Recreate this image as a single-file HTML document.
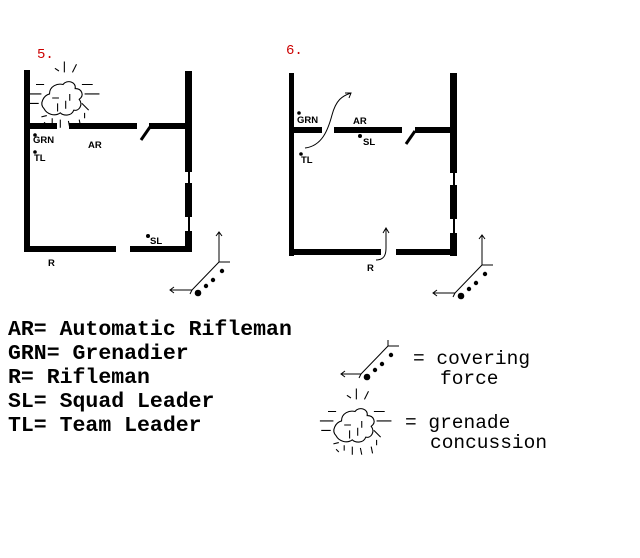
<!DOCTYPE html>
<html><head><style>
html,body{margin:0;padding:0;background:#fff;}
svg{display:block;}
.m{font-family:"Liberation Mono",monospace;}
</style></head><body>
<svg width="640" height="558" viewBox="0 0 640 558" xmlns="http://www.w3.org/2000/svg">
<defs>
<g id="gren0" fill="none" stroke="#000" stroke-width="0.8">
 <path d="M-14,8 C-18,4 -14,-2 -10,-3 C-10,-9 -4,-11 0,-10 C3,-14 10,-12 9,-7 C14,-7 16,-2 12,1 C15,5 12,10 8,9 C6,14 0,13 -2,11 C-6,14 -12,12 -14,8 Z"/>
 <path d="M-4,4 L-4,10 M2,2 L2,8 M-8,0 L-3,0 M5,-3 L5,2"/>
 <path d="M-6,-22 L-3,-20 M1,-27 L1,-19 M10,-25 L7,-19 M-20,-10 L-14,-10 M-26,-3 L-16,-3 M-25,4 L-18,4 M14,-10 L22,-10 M16,-3 L27,-3 M14,4 L19,9 M16,11 L16,15 M-16,14 L-12,13 M-8,15 L-8,19 M-2,16 L-2,22 M4,17 L5,22 M12,16 L13,21 M-14,18 L-12,20"/>
</g>
<g id="gren"><use href="#gren0" transform="scale(1.35)"/></g>
<g id="cov">
 <path d="M0,0 L0,-30 M-3,-26 L0,-30 L3,-26 M0,0 L11,0 M0,0 L-27,28 L-49,28 M-45,25 L-49,28 L-45,31 M-27,28 L-29,32" fill="none" stroke="#000" stroke-width="1"/>
 <circle cx="3" cy="9" r="2.2"/><circle cx="-6" cy="18" r="2.2"/><circle cx="-13" cy="24" r="2.2"/><circle cx="-21" cy="31" r="3.3"/>
</g>
<g id="cov2">
 <path d="M0,0 L0,-6 M0,0 L11,0 M0,0 L-27,28 L-47,28 M-43,25 L-47,28 L-43,31 M-27,28 L-29,32" fill="none" stroke="#000" stroke-width="1"/>
 <circle cx="3" cy="9" r="2.2"/><circle cx="-6" cy="18" r="2.2"/><circle cx="-13" cy="24" r="2.2"/><circle cx="-21" cy="31" r="3.3"/>
</g>
</defs>
<g class="m" fill="#c00" font-size="14"><text x="37" y="58">5.</text><text x="286" y="54">6.</text></g>

<!-- Room 5 -->
<g fill="#000">
 <rect x="24" y="70" width="6" height="182"/>
 <rect x="24" y="123" width="33" height="6"/>
 <rect x="69" y="123" width="68" height="6"/>
 <rect x="149" y="123" width="38" height="6"/>
 <rect x="185" y="71" width="7" height="101"/>
 <rect x="188" y="172" width="2" height="11"/>
 <rect x="185" y="183" width="7" height="34"/>
 <rect x="188" y="217" width="2" height="14"/>
 <rect x="185" y="231" width="7" height="21"/>
 <rect x="24" y="246" width="92" height="6"/>
 <rect x="130" y="246" width="62" height="6"/>
</g>
<line x1="141" y1="140" x2="150" y2="127" stroke="#000" stroke-width="3"/>
<use href="#gren" x="63" y="98"/>
<g font-family="Liberation Sans,sans-serif" font-size="9.5" font-weight="bold">
 <text x="33" y="143">GRN</text><text x="34" y="161">TL</text><text x="88" y="148">AR</text><text x="150" y="244">SL</text><text x="48" y="266">R</text>
</g>
<circle cx="35" cy="135" r="1.8"/><circle cx="35" cy="152" r="1.8"/><circle cx="148" cy="236" r="2"/>
<use href="#cov" x="219" y="262"/>

<!-- Room 6 -->
<g fill="#000">
 <rect x="289" y="73" width="5" height="183"/>
 <rect x="289" y="127" width="33" height="6"/>
 <rect x="334" y="127" width="68" height="6"/>
 <rect x="415" y="127" width="38" height="6"/>
 <rect x="450" y="73" width="7" height="100"/>
 <rect x="453" y="173" width="2" height="12"/>
 <rect x="450" y="185" width="7" height="34"/>
 <rect x="453" y="219" width="2" height="14"/>
 <rect x="450" y="233" width="7" height="23"/>
 <rect x="289" y="249" width="92" height="6"/>
 <rect x="396" y="249" width="61" height="6"/>
</g>
<line x1="406" y1="144" x2="415" y2="131" stroke="#000" stroke-width="3"/>
<g font-family="Liberation Sans,sans-serif" font-size="9.5" font-weight="bold">
 <text x="297" y="123">GRN</text><text x="301" y="163">TL</text><text x="353" y="124">AR</text><text x="363" y="145">SL</text><text x="367" y="271">R</text>
</g>
<circle cx="299" cy="113" r="1.8"/><circle cx="301" cy="154" r="1.8"/><circle cx="360" cy="136" r="2"/>
<path d="M305,148 C322,146 328,130 332,115 C336,100 342,96 351,93 M345,93 L351,93 L349,98" fill="none" stroke="#000"/>
<path d="M376,260 C384,260 386,255 386,248 L386,229 M383,233 L386,228 L389,233" fill="none" stroke="#000"/>
<use href="#cov" x="482" y="265"/>

<!-- Legend -->
<g class="m" font-size="21.5" font-weight="bold">
 <text x="8" y="335">AR= Automatic Rifleman</text>
 <text x="8" y="359">GRN= Grenadier</text>
 <text x="8" y="383">R= Rifleman</text>
 <text x="8" y="407">SL= Squad Leader</text>
 <text x="8" y="431">TL= Team Leader</text>
</g>
<use href="#cov2" x="388" y="346"/>
<use href="#gren" x="355" y="425"/>
<g class="m" font-size="19.5">
 <text x="413" y="364">= covering</text>
 <text x="440" y="384">force</text>
 <text x="405" y="428">= grenade</text>
 <text x="430" y="448">concussion</text>
</g>
</svg>
</body></html>
